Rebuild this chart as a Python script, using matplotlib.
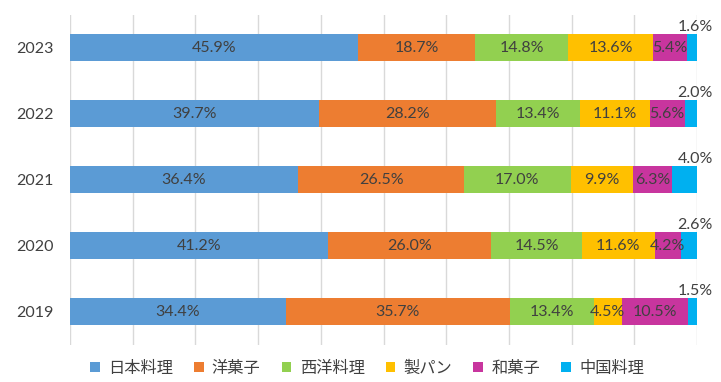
import matplotlib
matplotlib.use("Agg")
import matplotlib.pyplot as plt
import numpy as np

plt.rcParams['font.family'] = ['Lato', 'Noto Sans CJK JP', 'DejaVu Sans']

years = ['2019', '2020', '2021', '2022', '2023']
categories = ['日本料理', '洋菓子', '西洋料理', '製パン', '和菓子', '中国料理']
colors = ['#5B9BD5', '#ED7D31', '#92D050', '#FFC000', '#C8359E', '#00B0F0']

# share per year (%), order follows categories
japanese = [34.4, 41.2, 36.4, 39.7, 45.9]
western_sweets = [35.7, 26.0, 26.5, 28.2, 18.7]
western_food = [13.4, 14.5, 17.0, 13.4, 14.8]
bakery = [4.5, 11.6, 9.9, 11.1, 13.6]
japanese_sweets = [10.5, 4.2, 6.3, 5.6, 5.4]
chinese = [1.5, 2.6, 4.0, 2.0, 1.6]

series = [japanese, western_sweets, western_food, bakery, japanese_sweets, chinese]
vals = np.array(series, dtype=float)
shares = vals / vals.sum(axis=0) * 100  # 100% stacked

fig = plt.figure(figsize=(7.21, 3.82), dpi=100)
ax = fig.add_axes([0.097, 0.097, 0.870, 0.864])

y = np.arange(len(years))
left = np.zeros(len(years))
txt = '#404040'
for k, name in enumerate(categories):
    ax.barh(y, shares[k], left=left, height=0.41, color=colors[k],
            label=name, zorder=2)
    for i in range(len(years)):
        lab = '%.1f%%' % vals[k][i]
        if k == len(categories) - 1:
            ax.text(99.7, y[i] + 0.31, lab, ha='center', va='center',
                    fontsize=11.5, color=txt, zorder=3)
        else:
            ax.text(left[i] + shares[k][i] / 2, y[i], lab, ha='center',
                    va='center', fontsize=11.5, color=txt, zorder=3)
    left = left + shares[k]

ax.set_xlim(0, 100)
ax.set_ylim(-0.5, 4.5)
ax.set_xticks(np.arange(0, 101, 10))
ax.xaxis.grid(True, color='#D9D9D9', linewidth=1, zorder=0)
ax.set_axisbelow(True)
ax.tick_params(axis='x', length=0, labelbottom=False)
ax.tick_params(axis='y', length=0, pad=12, labelsize=11.5, labelcolor=txt)
ax.set_yticks(y)
ax.set_yticklabels(years)
for s in ax.spines.values():
    s.set_visible(False)

fig.legend(loc='center', bbox_to_anchor=(367 / 721, 1 - 368 / 382), ncol=6,
           frameon=False, handlelength=0.6, handleheight=0.6,
           handletextpad=0.5, columnspacing=1.3,
           prop={'family': ['Noto Sans CJK JP', 'DejaVu Sans'], 'size': 11.7},
           labelcolor=txt)

plt.savefig('out.png', dpi=100)
